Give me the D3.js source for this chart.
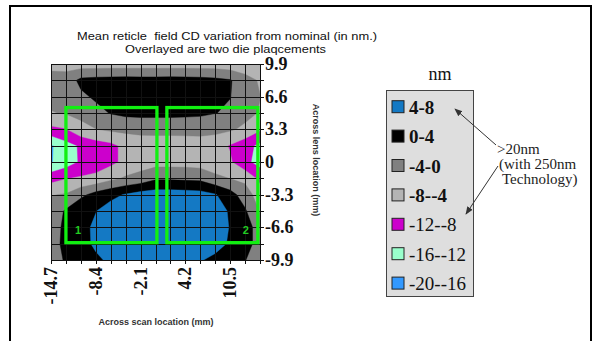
<!DOCTYPE html>
<html>
<head>
<meta charset="utf-8">
<script src="https://cdn.jsdelivr.net/npm/d3@7/dist/d3.min.js"></script>
<style>
  body { margin: 0; background: #fff; }
  svg { display: block; }
  text { white-space: pre; }
</style>
</head>
<body>
<svg id="chart" width="594" height="341"></svg>
<script>
// Measurement grid (mm): scan direction columns, lens direction rows (top row = +9.9)
const xGrid = [-14.7, -12.6, -10.5, -8.4, -6.3, -4.2, -2.1, 0, 2.1, 4.2, 6.3, 8.4, 10.5, 12.6, 14.7];
const yGrid = [9.9, 8.25, 6.6, 4.95, 3.3, 1.65, 0, -1.65, -3.3, -4.95, -6.6, -8.25, -9.9];

// Mean CD deviation from nominal (nm), one row per yGrid entry
const cdRow0  = [-5, -5.5, -6, -6, -6, -6, -6, -6, -6, -6, -6, -6, -6.5, -7, -7];
const cdRow1  = [-2.7, -2.3, 1.0, 1.4, 1.6, 1.7, 1.6, 1.6, 1.7, 1.6, 1.4, 1.0, 0.3, -2.2, -4.5];
const cdRow2  = [-3, -2.5, -0.8, 0.6, 1.8, 2.2, 2.2, 2.2, 2.2, 2.0, 1.5, 0.8, 0.1, -2.0, -3.9];
const cdRow3  = [-4.2, -3.7, -3.0, -1.2, 0.2, 0.9, 1.1, 1.2, 1.2, 1.0, 0.7, 0.1, -0.6, -2.8, -4.3];
const cdRow4  = [-9, -8.2, -5.2, -4.1, -3.3, -3.0, -2.9, -3.1, -3.1, -3.0, -2.7, -2.9, -3.5, -4.8, -7.5];
const cdRow5  = [-16.5, -13.5, -11.5, -10, -9, -7, -6, -5.5, -5.5, -5.5, -5.8, -6.3, -8.3, -10.5, -13];
const cdRow6  = [-16.3, -14, -11.5, -10, -9, -7, -6, -5.5, -5.5, -5.5, -5.8, -6.5, -7.5, -11, -13.5];
const cdRow7  = [-9.5, -8.2, -7.5, -7, -5, -3.5, -2.5, -0.6, -0.6, -0.8, -1.0, -3, -4.1, -5, -9];
const cdRow8  = [-4.2, -3.7, -1, 1.5, 3, 4.3, 5.5, 6, 6, 5.8, 5.5, 4.3, 1.6, -2, -6];
const cdRow9  = [-2.5, 0.5, 3.5, 3.9, 5.6, 6.5, 7, 7, 7, 7, 6.8, 6, 3.5, 0.5, -4.3];
const cdRow10 = [-2, 1.0, 3, 4.6, 6.5, 7.5, 7.5, 7.5, 7.5, 7.5, 7, 6, 3.8, 2, -2];
const cdRow11 = [-1.5, 1, 3, 4.5, 6, 7, 7, 7, 7, 7, 6.5, 5.5, 3.5, 1.5, -1.5];
const cdRow12 = [-2, 0.5, 2, 3.5, 4.5, 5.5, 6, 6, 6, 5.5, 4.3, 3, 1.5, 0.2, -3];

// Contour bands (lower bound of each band, nm) and their legend labels
const bandLower  = [-20, -16, -12, -8, -4, 0, 4];
const bandLabels = ["-20--16", "-16--12", "-12--8", "-8--4", "-4-0", "0-4", "4-8"];

// Labelled axis ticks (mm)
const xTickLabels = [-14.7, -8.4, -2.1, 4.2, 10.5];
const yTickLabels = [9.9, 6.6, 3.3, 0, -3.3, -6.6, -9.9];

// Die placements (mm)
const dieNames = ["1", "2"];
const dieLeft   = [-12.6, 1.6];
const dieRight  = [0.2, 14.4];
const dieTop    = [5.5, 5.5];
const dieBottom = [-8.15, -8.15];

const bandColors = ["#3399ff", "#99ffcc", "#cc00cc", "#b4b4b4", "#808080", "#000000", "#1479c4"];

const svg = d3.select("#chart");

// Outer frame
svg.append("path")
  .attr("d", "M10,341 V6 H591 V341")
  .attr("fill", "none").attr("stroke", "#000").attr("stroke-width", 2);

const x = d3.scaleLinear().domain([xGrid[0], xGrid[xGrid.length - 1]]).range([51, 260]);
const y = d3.scaleLinear().domain([yGrid[yGrid.length - 1], yGrid[0]]).range([260, 64]);

// Title
svg.append("text").attr("x", 77).attr("y", 39.5)
  .attr("textLength", 300).attr("lengthAdjust", "spacingAndGlyphs")
  .attr("font-family", "Liberation Sans, Arial, sans-serif").attr("font-size", 11.5).attr("fill", "#111")
  .text("Mean reticle  field CD variation from nominal (in nm.)");
svg.append("text").attr("x", 125).attr("y", 52.5)
  .attr("textLength", 201).attr("lengthAdjust", "spacingAndGlyphs")
  .attr("font-family", "Liberation Sans, Arial, sans-serif").attr("font-size", 11.5).attr("fill", "#111")
  .text("Overlayed are two die plaqcements");

// Filled contour bands
const nx = xGrid.length, ny = yGrid.length;
const values = [cdRow0, cdRow1, cdRow2, cdRow3, cdRow4, cdRow5, cdRow6, cdRow7, cdRow8, cdRow9, cdRow10, cdRow11, cdRow12].flat();
const contours = d3.contours().size([nx, ny]).thresholds(bandLower)(values);

// d3.contours places sample i at i + 0.5 in grid space
const gx = d3.scaleLinear().domain([0.5, nx - 0.5]).range([x(xGrid[0]), x(xGrid[nx - 1])]);
const gy = d3.scaleLinear().domain([0.5, ny - 0.5]).range([y(yGrid[0]), y(yGrid[ny - 1])]);
const toPlot = d3.geoTransform({ point(px, py) { this.stream.point(gx(px), gy(py)); } });
const path = d3.geoPath(toPlot);

svg.append("clipPath").attr("id", "plot-clip")
  .append("rect").attr("x", x.range()[0]).attr("y", y.range()[1])
  .attr("width", x.range()[1] - x.range()[0]).attr("height", y.range()[0] - y.range()[1]);

const colorOf = d3.scaleOrdinal().domain(bandLower).range(bandColors);

svg.append("g").attr("clip-path", "url(#plot-clip)")
  .selectAll("path").data(contours).join("path")
  .attr("d", path)
  .attr("fill", d => colorOf(d.value))
  .attr("stroke", d => colorOf(d.value))
  .attr("stroke-width", 0.4);

// Grid lines with short outside ticks
const grid = svg.append("g").attr("stroke", "#111").attr("stroke-width", 1).attr("shape-rendering", "crispEdges");
grid.selectAll("line.v").data(xGrid).join("line").attr("class", "v")
  .attr("x1", d => Math.round(x(d)) + 0.5).attr("x2", d => Math.round(x(d)) + 0.5)
  .attr("y1", y.range()[1]).attr("y2", y.range()[0] + 4);
grid.selectAll("line.h").data(yGrid).join("line").attr("class", "h")
  .attr("y1", d => Math.round(y(d)) + 0.5).attr("y2", d => Math.round(y(d)) + 0.5)
  .attr("x1", x.range()[0]).attr("x2", x.range()[1] + 4);

// Right axis labels
svg.append("g").selectAll("text").data(yTickLabels).join("text")
  .attr("x", 265).attr("y", d => y(d) + 6)
  .attr("font-family", "Liberation Serif, Times New Roman, serif").attr("font-weight", "bold")
  .attr("font-size", 18).attr("fill", "#111")
  .text(d => d === 0 ? "0" : d.toFixed(1));

// Bottom axis labels (rotated)
svg.append("g").selectAll("text").data(xTickLabels).join("text")
  .attr("transform", d => `translate(${x(d) + 6},267) rotate(-90)`)
  .attr("text-anchor", "end")
  .attr("font-family", "Liberation Serif, Times New Roman, serif").attr("font-weight", "bold")
  .attr("font-size", 18).attr("fill", "#111")
  .text(d => d.toFixed(1));

// Axis titles
svg.append("text").attr("x", 156).attr("y", 325).attr("text-anchor", "middle")
  .attr("font-family", "Liberation Sans, Arial, sans-serif").attr("font-weight", "bold")
  .attr("font-size", 9).attr("fill", "#333").text("Across scan location (mm)");
svg.append("text").attr("transform", "translate(313,160) rotate(90)").attr("text-anchor", "middle")
  .attr("font-family", "Liberation Sans, Arial, sans-serif").attr("font-weight", "bold")
  .attr("font-size", 9).attr("fill", "#333").text("Across lens location (mm)");

// Die outlines
const dies = dieNames.map((n, i) => ({ n, l: dieLeft[i], r: dieRight[i], t: dieTop[i], b: dieBottom[i] }));
svg.append("g").selectAll("rect").data(dies).join("rect")
  .attr("x", d => x(d.l)).attr("y", d => y(d.t))
  .attr("width", d => x(d.r) - x(d.l)).attr("height", d => y(d.b) - y(d.t))
  .attr("fill", "none").attr("stroke", "#11f011").attr("stroke-width", 3.3);
svg.append("g").selectAll("text").data(dies).join("text")
  .attr("x", (d, i) => i === 0 ? x(d.l) + 9 : x(d.r) - 9)
  .attr("y", d => y(d.b) - 9)
  .attr("text-anchor", (d, i) => i === 0 ? "start" : "end")
  .attr("font-family", "Liberation Sans, Arial, sans-serif").attr("font-weight", "bold")
  .attr("font-size", 11).attr("fill", "#22cc22").text(d => d.n);

// Legend
svg.append("text").attr("x", 440).attr("y", 80).attr("text-anchor", "middle")
  .attr("font-family", "Liberation Serif, Times New Roman, serif").attr("font-size", 18).attr("fill", "#111")
  .text("nm");
svg.append("rect").attr("x", 386.5).attr("y", 90.5).attr("width", 87).attr("height", 206)
  .attr("fill", "#dedede").attr("stroke", "#444").attr("stroke-width", 1);

const legendOrder = d3.range(bandLower.length).reverse();
const item = svg.append("g").selectAll("g").data(legendOrder).join("g")
  .attr("transform", (d, i) => `translate(392,${106.7 + i * 29.4})`);
item.append("rect").attr("x", 0).attr("y", -6).attr("width", 12).attr("height", 12)
  .attr("fill", d => bandColors[d]).attr("stroke", "#222").attr("stroke-width", 1);
item.append("text").attr("x", 17).attr("y", 7)
  .attr("font-family", "Liberation Serif, Times New Roman, serif")
  .attr("font-weight", d => bandLower[d] >= -8 ? "bold" : "normal")
  .attr("font-size", 19).attr("fill", "#111")
  .text(d => bandLabels[d]);

// Annotation with arrows
const defs = svg.append("defs");
defs.append("marker").attr("id", "arrow").attr("viewBox", "0 0 10 10")
  .attr("refX", 9).attr("refY", 5).attr("markerWidth", 8).attr("markerHeight", 8)
  .attr("orient", "auto-start-reverse")
  .append("path").attr("d", "M0,1 L10,5 L0,9 z").attr("fill", "#333");
svg.append("line").attr("x1", 496).attr("y1", 145).attr("x2", 455).attr("y2", 109)
  .attr("stroke", "#333").attr("stroke-width", 1).attr("marker-end", "url(#arrow)");
svg.append("line").attr("x1", 498).attr("y1", 166).attr("x2", 466).attr("y2", 214)
  .attr("stroke", "#333").attr("stroke-width", 1).attr("marker-end", "url(#arrow)");

const note = svg.append("g").attr("font-family", "Liberation Serif, Times New Roman, serif")
  .attr("font-size", 15).attr("fill", "#222");
note.append("text").attr("x", 497).attr("y", 154).text(">20nm");
note.append("text").attr("x", 499).attr("y", 169).text("(with 250nm");
note.append("text").attr("x", 502).attr("y", 184).text("Technology)");
</script>
</body>
</html>
